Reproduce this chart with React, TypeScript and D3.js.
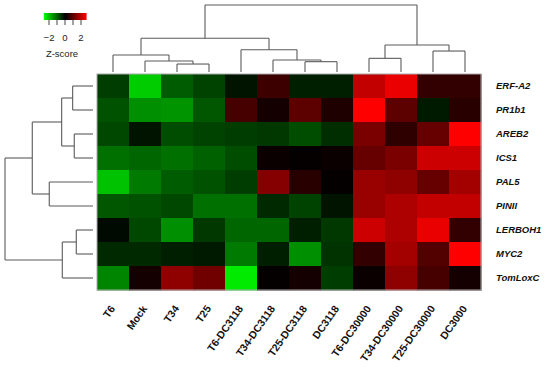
import React from 'react';
import * as d3 from 'd3';

// samples (columns) and genes (rows), in dendrogram order
const samples = ['T6', 'Mock', 'T34', 'T25', 'T6-DC3118', 'T34-DC3118', 'T25-DC3118', 'DC3118',
  'T6-DC30000', 'T34-DC30000', 'T25-DC30000', 'DC3000'];
const genes = ['ERF-A2', 'PR1b1', 'AREB2', 'ICS1', 'PAL5', 'PINII', 'LERBOH1', 'MYC2', 'TomLoxC'];

// z-scores, one array per gene
const zERFA2 = [-0.6, -2.0, -0.9, -0.65, -0.2, 0.6, -0.3, -0.3, 1.9, 2.3, 0.5, 0.5];
const zPR1b1 = [-0.8, -1.4, -1.45, -0.85, 0.7, 0.2, 0.9, 0.3, 2.5, 0.9, -0.25, 0.4];
const zAREB2 = [-0.7, -0.2, -0.75, -0.65, -0.6, -0.55, -0.75, -0.45, 1.2, 0.45, 1.0, 2.5];
const zICS1 = [-1.1, -1.0, -1.1, -0.95, -0.75, 0.1, 0.05, 0.1, 1.0, 1.2, 2.0, 2.0];
const zPAL5 = [-1.9, -1.2, -0.9, -0.8, -0.6, 1.3, 0.4, 0.05, 1.5, 1.4, 1.0, 1.6];
const zPINII = [-0.85, -0.8, -0.7, -1.1, -1.1, -0.4, -0.65, -0.2, 1.5, 1.7, 1.9, 1.9];
const zLERBOH1 = [-0.1, -0.7, -1.4, -0.55, -1.0, -1.0, -0.3, -0.55, 2.0, 1.7, 2.3, 0.5];
const zMYC2 = [-0.4, -0.4, -0.3, -0.25, -1.2, -0.3, -1.4, -0.5, 0.5, 1.6, 0.8, 2.5];
const zTomLoxC = [-1.3, 0.2, 1.4, 1.1, -2.3, 0.05, 0.2, -0.6, 0.1, 1.4, 0.7, 0.2];
const zRows = [zERFA2, zPR1b1, zAREB2, zICS1, zPAL5, zPINII, zLERBOH1, zMYC2, zTomLoxC];

// clustering trees: leaves are names, nodes carry a merge height
type Tree = string | { h: number; c: Tree[] };
const colTree: Tree = {
  h: 10, c: [
    { h: 5.03, c: [
      { h: 2.54, c: ['T6', { h: 1.64, c: ['Mock', { h: 1.19, c: ['T34', 'T25'] }] }] },
      { h: 3.33, c: ['T6-DC3118', { h: 1.79, c: ['T34-DC3118', { h: 1.54, c: ['T25-DC3118', 'DC3118'] }] }] },
    ] },
    { h: 4.03, c: [
      { h: 2.04, c: ['T6-DC30000', 'T34-DC30000'] },
      { h: 3.13, c: ['T25-DC30000', 'DC3000'] },
    ] },
  ],
};
const rowTree: Tree = {
  h: 10, c: [
    { h: 6.9, c: [
      { h: 3.56, c: [{ h: 2.31, c: ['ERF-A2', 'PR1b1'] }, { h: 2.13, c: ['AREB2', 'ICS1'] }] },
      { h: 4.97, c: ['PAL5', 'PINII'] },
    ] },
    { h: 3.49, c: [{ h: 1.9, c: ['LERBOH1', 'MYC2'] }, 'TomLoxC'] },
  ],
};

const legendTicks = [-2, -1, 0, 1, 2];
const legendLabels = [-2, 0, 2];

// walk a tree, returning [leafPos, height] for the node and pushing segments
const dendro = (t: Tree, pos: (s: string) => number, segs: number[][]): [number, number] => {
  if (typeof t === 'string') return [pos(t), 0];
  const kids = t.c.map((k) => dendro(k, pos, segs));
  kids.forEach(([p, h]) => segs.push([p, h, p, t.h]));
  segs.push([kids[0][0], t.h, kids[kids.length - 1][0], t.h]);
  return [(kids[0][0] + kids[kids.length - 1][0]) / 2, t.h];
};

const App = () => {
  const left = 97, top = 74, width = 384, height = 216;
  const x = d3.scaleBand().domain(samples).range([left, left + width]);
  const y = d3.scaleBand().domain(genes).range([top, top + height]);
  const color = d3.scaleLinear<string>().domain([-2.5, 0, 2.5])
    .range(['#00ff00', '#000000', '#ff0000']).clamp(true);

  const colH = d3.scaleLinear().domain([0, 10]).range([72, 5]);
  const rowH = d3.scaleLinear().domain([0, 10]).range([93, 5]);
  const colSegs: number[][] = [];
  dendro(colTree, (s) => x(s)! + x.bandwidth() / 2, colSegs);
  const rowSegs: number[][] = [];
  dendro(rowTree, (s) => y(s)! + y.bandwidth() / 2, rowSegs);

  const lx = d3.scaleLinear().domain([-2, 2]).range([49, 81]);
  const font = 'Liberation Sans, Arial, sans-serif';

  return (
    <svg width={550} height={369} style={{ position: 'absolute', left: 0, top: 0, background: '#fff' }}
      fontFamily={font}>
      <defs>
        <linearGradient id="zgrad" x1="0" x2="1" y1="0" y2="0">
          <stop offset="0%" stopColor="#00ff00" />
          <stop offset="50%" stopColor="#000000" />
          <stop offset="100%" stopColor="#ff0000" />
        </linearGradient>
      </defs>

      {/* legend */}
      <rect x={lx(-2.65)} y={13} width={lx(2.7) - lx(-2.65)} height={7} fill="url(#zgrad)" />
      {legendTicks.map((t) => (
        <line key={t} x1={lx(t)} x2={lx(t)} y1={20} y2={25} stroke="#444" strokeWidth={1} />
      ))}
      {legendLabels.map((t) => (
        <text key={t} x={lx(t)} y={41} textAnchor="middle" fontSize={9.5} fill="#222">
          {t < 0 ? '\u2212' + Math.abs(t) : t}
        </text>
      ))}
      <text x={62} y={57} textAnchor="middle" fontSize={9.5} fill="#222">Z-score</text>

      {/* dendrograms */}
      <g stroke="#5a5a5a" strokeWidth={1.1} fill="none">
        {colSegs.map(([p1, h1, p2, h2], i) => (
          <line key={'c' + i} x1={p1} x2={p2} y1={colH(h1)} y2={colH(h2)} />
        ))}
        {rowSegs.map(([p1, h1, p2, h2], i) => (
          <line key={'r' + i} y1={p1} y2={p2} x1={rowH(h1)} x2={rowH(h2)} />
        ))}
      </g>

      {/* heatmap */}
      {zRows.map((row, ri) => row.map((v, ci) => (
        <rect key={ri + '-' + ci} x={x(samples[ci])} y={y(genes[ri])}
          width={x.bandwidth() + 0.5} height={y.bandwidth() + 0.5} fill={color(v)} />
      )))}
      <rect x={left} y={top} width={width} height={height} fill="none" stroke="#aaa" strokeWidth={1} />

      {/* row labels */}
      {genes.map((g) => (
        <text key={g} x={496} y={y(g)! + y.bandwidth() / 2 + 3} fontSize={9.5}
          fontWeight="bold" fontStyle="italic" fill="#111">{g}</text>
      ))}

      {/* column labels */}
      {samples.map((s) => (
        <text key={s} transform={`translate(${x(s)! + x.bandwidth() / 2 - 4},${304}) rotate(-55)`}
          dy={8} textAnchor="end" fontSize={10.5} fontWeight="bold" fill="#111">{s}</text>
      ))}
    </svg>
  );
};

export default App;
